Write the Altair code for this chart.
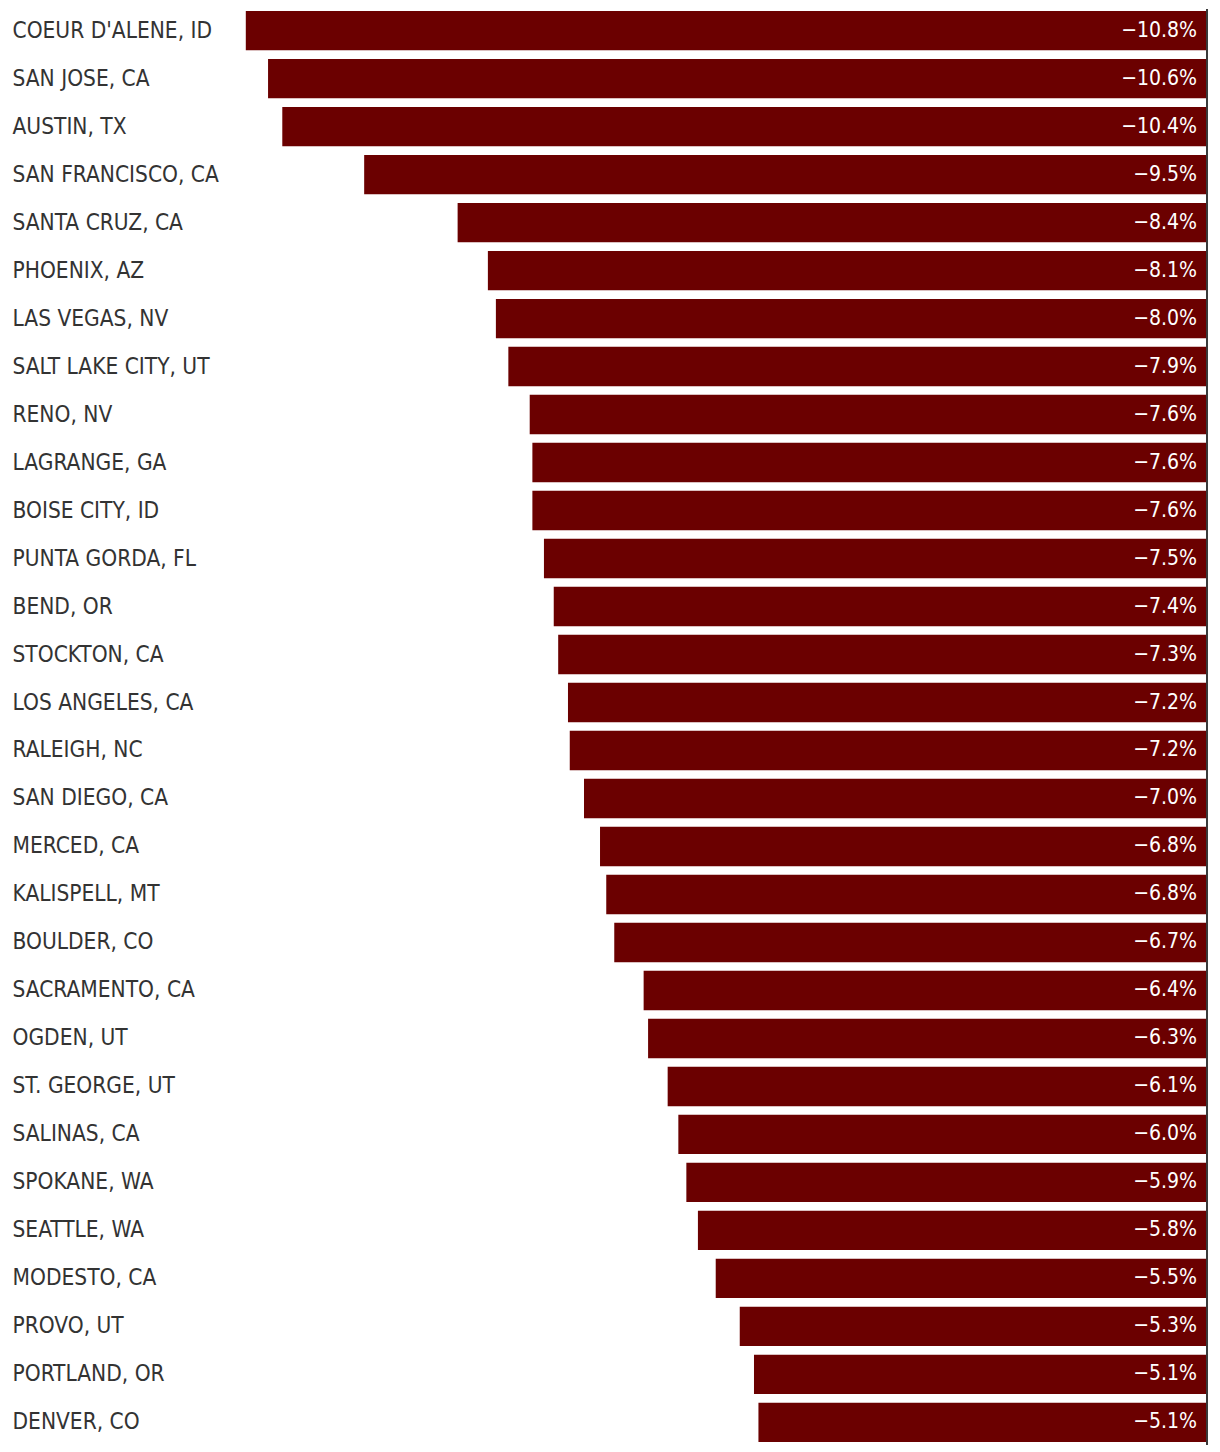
import altair as alt
import pandas as pd

cities = [
    "COEUR D'ALENE, ID", "SAN JOSE, CA", "AUSTIN, TX", "SAN FRANCISCO, CA",
    "SANTA CRUZ, CA", "PHOENIX, AZ", "LAS VEGAS, NV", "SALT LAKE CITY, UT",
    "RENO, NV", "LAGRANGE, GA", "BOISE CITY, ID", "PUNTA GORDA, FL",
    "BEND, OR", "STOCKTON, CA", "LOS ANGELES, CA", "RALEIGH, NC",
    "SAN DIEGO, CA", "MERCED, CA", "KALISPELL, MT", "BOULDER, CO",
    "SACRAMENTO, CA", "OGDEN, UT", "ST. GEORGE, UT", "SALINAS, CA",
    "SPOKANE, WA", "SEATTLE, WA", "MODESTO, CA", "PROVO, UT",
    "PORTLAND, OR", "DENVER, CO",
]
# bar lengths (percent change)
changes = [
    -10.80, -10.55, -10.39, -9.47, -8.42, -8.08, -7.99, -7.85,
    -7.61, -7.58, -7.58, -7.45, -7.34, -7.29, -7.18, -7.16,
    -7.00, -6.82, -6.75, -6.66, -6.33, -6.28, -6.06, -5.94,
    -5.85, -5.72, -5.52, -5.25, -5.09, -5.04,
]
# printed labels
labels = [
    "\u221210.8%", "\u221210.6%", "\u221210.4%", "\u22129.5%", "\u22128.4%",
    "\u22128.1%", "\u22128.0%", "\u22127.9%", "\u22127.6%", "\u22127.6%",
    "\u22127.6%", "\u22127.5%", "\u22127.4%", "\u22127.3%", "\u22127.2%",
    "\u22127.2%", "\u22127.0%", "\u22126.8%", "\u22126.8%", "\u22126.7%",
    "\u22126.4%", "\u22126.3%", "\u22126.1%", "\u22126.0%", "\u22125.9%",
    "\u22125.8%", "\u22125.5%", "\u22125.3%", "\u22125.1%", "\u22125.1%",
]

df = pd.DataFrame({"city": cities, "change": changes, "label": labels})
df["zero"] = 0.0

FONT = "DejaVu Sans Condensed, Roboto, sans-serif"
W = 979
H = 1435
XSCALE = alt.Scale(domain=[-11, 0], nice=False)

y_enc = alt.Y(
    "city:N",
    sort=cities,
    title=None,
    scale=alt.Scale(paddingInner=0.18, paddingOuter=0.04),
    axis=alt.Axis(
        labelAlign="left",
        labelPadding=216,
        labelFont=FONT,
        labelFontSize=22.5,
        labelColor="#333333",
        ticks=False,
        domain=False,
        grid=False,
        labelLimit=400,
    ),
)

base = alt.Chart(df)

bars = base.mark_bar(color="#6b0000").encode(
    y=y_enc,
    x=alt.X("change:Q", title=None, scale=XSCALE, axis=None),
    x2="zero:Q",
)

text = base.mark_text(
    align="right", baseline="middle", dx=-10, color="white",
    font=FONT, fontSize=21,
).encode(y=y_enc, x=alt.X("zero:Q", scale=XSCALE, axis=None), text="label:N")

rule = base.mark_rule(color="#3a3a3a", strokeWidth=1.6).encode(
    x=alt.X("zero:Q", scale=XSCALE, axis=None),
    y=alt.value(0),
    y2=alt.value(H + 1),
)

chart = (
    alt.layer(bars, text, rule)
    .properties(
        width=W, height=H, background="white",
        padding={"left": 4, "top": 0, "right": 4, "bottom": 0},
    )
    .configure_view(strokeWidth=0, stroke="transparent")
)

chart.save("out.html", embed_options={"renderer": "svg", "actions": False})
